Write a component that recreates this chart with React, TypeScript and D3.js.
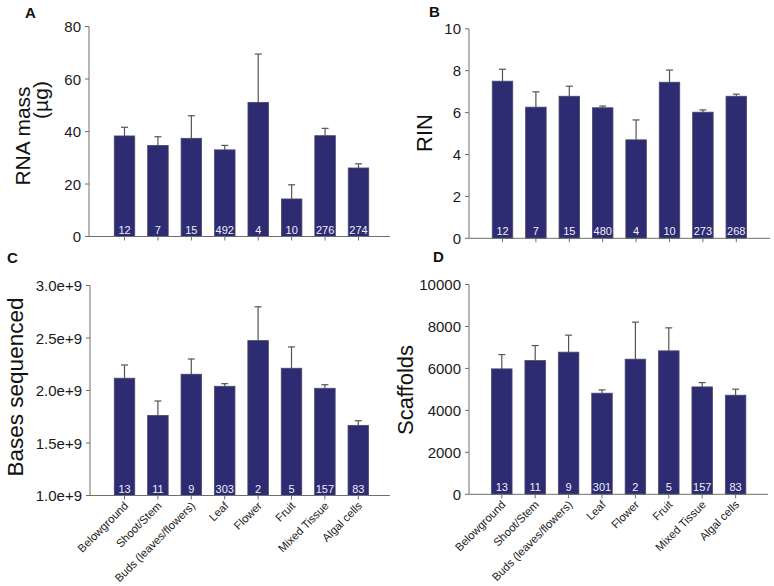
import React from "react";
import * as d3 from "d3";

const categories = [
  "Belowground",
  "Shoot/Stem",
  "Buds (leaves/flowers)",
  "Leaf",
  "Flower",
  "Fruit",
  "Mixed Tissue",
  "Algal cells",
];

// Panel A: RNA mass (µg)
const rnaMass = [38.3, 34.7, 37.4, 33.0, 51.1, 14.3, 38.4, 26.1];
const rnaMassErr = [3.3, 3.3, 8.6, 1.7, 18.4, 5.4, 2.8, 1.6];
const rnaMassN = [12, 7, 15, 492, 4, 10, 276, 274];
const rnaMassTicks = [0, 20, 40, 60, 80];

// Panel B: RIN
const rin = [7.5, 6.26, 6.78, 6.23, 4.7, 7.45, 6.02, 6.78];
const rinErr = [0.57, 0.73, 0.48, 0.08, 0.95, 0.58, 0.11, 0.1];
const rinN = [12, 7, 15, 480, 4, 10, 273, 268];
const rinTicks = [0, 2, 4, 6, 8, 10];

// Panel C: Bases sequenced
const bases = [2.117e9, 1.763e9, 2.155e9, 2.04e9, 2.475e9, 2.212e9, 2.021e9, 1.668e9];
const basesErr = [0.126e9, 0.137e9, 0.145e9, 0.025e9, 0.322e9, 0.203e9, 0.034e9, 0.044e9];
const basesN = [13, 11, 9, 303, 2, 5, 157, 83];
const basesTicks = [1.0e9, 1.5e9, 2.0e9, 2.5e9, 3.0e9];

// Panel D: Scaffolds
const scaffolds = [5978, 6374, 6775, 4819, 6441, 6837, 5119, 4723];
const scaffoldsErr = [682, 716, 811, 157, 1765, 1097, 205, 287];
const scaffoldsN = [13, 11, 9, 301, 2, 5, 157, 83];
const scaffoldsTicks = [0, 2000, 4000, 6000, 8000, 10000];

const FONT = "'Liberation Sans', Arial, Helvetica, sans-serif";
const BAR = "#2d2b72";
const AXIS = "#6e6e6e";

type PanelProps = {
  letter: string;
  letterPos: [number, number];
  titleLines: { text: string; x: number; y: number; size: number }[];
  values: number[];
  errs: number[];
  ns: number[];
  ticks: number[];
  fmt: (v: number) => string;
  left: number;
  right: number;
  top: number;
  bottom: number;
  first: number;
  step: number;
  showXLabels: boolean;
};

function Panel(p: PanelProps) {
  const y = d3
    .scaleLinear()
    .domain([p.ticks[0], p.ticks[p.ticks.length - 1]])
    .range([p.bottom, p.top]);
  const x = d3
    .scalePoint<string>()
    .domain(categories)
    .range([p.first, p.first + (categories.length - 1) * p.step]);
  const bw = 20.5;
  const cap = 3.5;
  return (
    <g>
      <text
        x={p.letterPos[0]}
        y={p.letterPos[1]}
        fontFamily={FONT}
        fontWeight="bold"
        fontSize={15}
        fill="#111"
      >
        {p.letter}
      </text>
      {p.titleLines.map((t, i) => (
        <text
          key={i}
          transform={`translate(${t.x},${t.y}) rotate(-90)`}
          textAnchor="middle"
          dominantBaseline="central"
          fontFamily={FONT}
          fontSize={t.size}
          fill="#111"
        >
          {t.text}
        </text>
      ))}
      {/* bars */}
      {categories.map((c, i) => {
        const cx = x(c) as number;
        const yt = y(p.values[i]);
        const ye = y(p.values[i] + p.errs[i]);
        return (
          <g key={c}>
            <line x1={cx} x2={cx} y1={yt} y2={ye} stroke="#555" strokeWidth={1.2} />
            <line x1={cx - cap} x2={cx + cap} y1={ye} y2={ye} stroke="#555" strokeWidth={1.2} />
            <rect
              x={cx - bw / 2}
              y={yt}
              width={bw}
              height={p.bottom - yt}
              fill={BAR}
              stroke="#48476a"
              strokeWidth={0.8}
            />
            <text
              x={cx}
              y={p.bottom - 3}
              textAnchor="middle"
              fontFamily={FONT}
              fontSize={11}
              fill="#eeeefa"
            >
              {p.ns[i]}
            </text>
          </g>
        );
      })}
      {/* y axis */}
      <line x1={p.left} x2={p.left} y1={p.top} y2={p.bottom} stroke={AXIS} strokeWidth={1} />
      {p.ticks.map((t) => (
        <g key={t}>
          <line x1={p.left - 4} x2={p.left} y1={y(t)} y2={y(t)} stroke={AXIS} strokeWidth={1} />
          <text
            x={p.left - 8}
            y={y(t)}
            textAnchor="end"
            dominantBaseline="central"
            fontFamily={FONT}
            fontSize={15}
            fill="#1a1a1a"
          >
            {p.fmt(t)}
          </text>
        </g>
      ))}
      {/* x axis */}
      <line x1={p.left} x2={p.right} y1={p.bottom} y2={p.bottom} stroke={AXIS} strokeWidth={1} />
      {categories.map((c) => {
        const cx = x(c) as number;
        return (
          <g key={"t" + c}>
            <line x1={cx} x2={cx} y1={p.bottom} y2={p.bottom + 4} stroke={AXIS} strokeWidth={1} />
            {p.showXLabels && (
              <text
                transform={`translate(${cx + 4.5},${p.bottom + 11}) rotate(-45)`}
                textAnchor="end"
                fontFamily={FONT}
                fontSize={11.3}
                fill="#1a1a1a"
              >
                {c}
              </text>
            )}
          </g>
        );
      })}
    </g>
  );
}

export default function App() {
  const intFmt = (v: number) => String(v);
  const expFmt = d3.format(".1e");
  return (
    <svg
      width={774}
      height={586}
      style={{ position: "absolute", left: 0, top: 0, background: "#fff" }}
    >
      <rect x={0} y={0} width={774} height={586} fill="#fff" />
      <Panel
        letter="A"
        letterPos={[25, 18]}
        titleLines={[
          { text: "RNA mass", x: 22, y: 136, size: 21 },
          { text: "(µg)", x: 40, y: 100, size: 21 },
        ]}
        values={rnaMass}
        errs={rnaMassErr}
        ns={rnaMassN}
        ticks={rnaMassTicks}
        fmt={intFmt}
        left={89}
        right={390}
        top={26.5}
        bottom={236.5}
        first={124.5}
        step={33.43}
        showXLabels={false}
      />
      <Panel
        letter="B"
        letterPos={[429, 17]}
        titleLines={[{ text: "RIN", x: 424, y: 133, size: 22 }]}
        values={rin}
        errs={rinErr}
        ns={rinN}
        ticks={rinTicks}
        fmt={intFmt}
        left={469}
        right={770}
        top={28.8}
        bottom={238.3}
        first={502.5}
        step={33.4}
        showXLabels={false}
      />
      <Panel
        letter="C"
        letterPos={[7, 263]}
        titleLines={[{ text: "Bases sequenced", x: 15, y: 387, size: 22.5 }]}
        values={bases}
        errs={basesErr}
        ns={basesN}
        ticks={basesTicks}
        fmt={(v) => expFmt(v)}
        left={90}
        right={390}
        top={285.5}
        bottom={495.5}
        first={124.5}
        step={33.4}
        showXLabels={true}
      />
      <Panel
        letter="D"
        letterPos={[433, 262]}
        titleLines={[{ text: "Scaffolds", x: 405, y: 390, size: 22 }]}
        values={scaffolds}
        errs={scaffoldsErr}
        ns={scaffoldsN}
        ticks={scaffoldsTicks}
        fmt={intFmt}
        left={469}
        right={768}
        top={284.5}
        bottom={494.3}
        first={501.8}
        step={33.4}
        showXLabels={true}
      />
    </svg>
  );
}
